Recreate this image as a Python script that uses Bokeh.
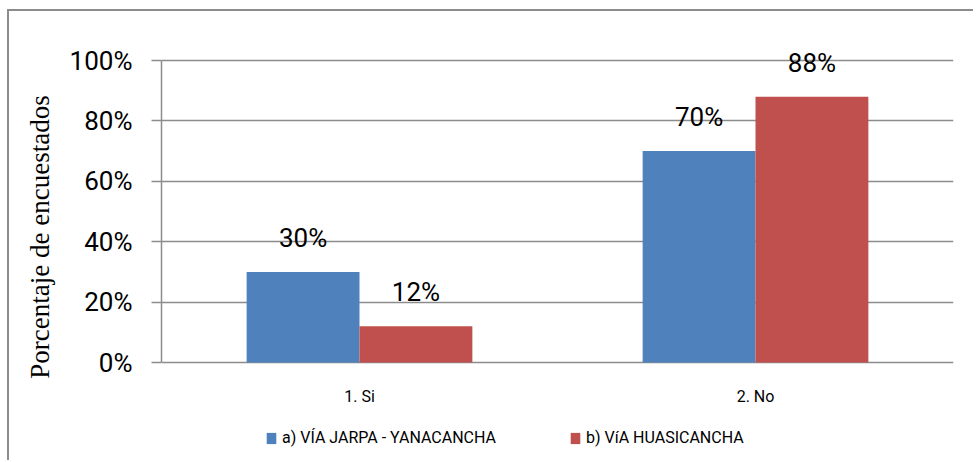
from bokeh.plotting import figure
from bokeh.core.properties import value
from bokeh.models import (ColumnDataSource, FactorRange, Range1d, NumeralTickFormatter,
                          FixedTicker, LabelSet, Legend, LegendItem)
from bokeh.transform import dodge
from bokeh.embed import file_html
from bokeh.resources import INLINE

# ---- data ----
categories = ["1. Si", "2. No"]
series_names = ["a) VÍA JARPA - YANACANCHA", "b) VíA HUASICANCHA"]
via_jarpa = [0.30, 0.70]
via_huasicancha = [0.12, 0.88]
y_ticks = [0, 0.2, 0.4, 0.6, 0.8, 1.0]

BLUE = "#4f81bd"
RED = "#c0504d"
GRAY = "#8c8c8c"
SANS = "Roboto"

src = ColumnDataSource(dict(
    cat=categories,
    base=[0] * len(categories),
    a=via_jarpa,
    b=via_huasicancha,
    a_lbl=[f"{round(v * 100)}%" for v in via_jarpa],
    b_lbl=[f"{round(v * 100)}%" for v in via_huasicancha],
))

# the frame fills the canvas vertically so the labels above 100%, the category
# labels and the legend below the 0% line all stay inside it
p = figure(x_range=FactorRange(factors=categories), y_range=Range1d(-0.3311, 1.1623),
           width=966, height=451, output_backend="svg", toolbar_location=None,
           x_axis_location=None,
           min_border_left=152, min_border_right=22, min_border_top=0, min_border_bottom=0)
p.margin = (9, 0, 0, 7)
p.styles = {"border-left": f"2px solid {GRAY}", "border-top": f"2px solid {GRAY}"}
p.outline_line_color = None
p.background_fill_color = "white"
p.border_fill_color = "white"

off, w = 0.1425, 0.285
r1 = p.vbar(x=dodge("cat", -off, range=p.x_range), top="a", width=w, source=src,
            fill_color=BLUE, line_color=None)
r2 = p.vbar(x=dodge("cat", off, range=p.x_range), top="b", width=w, source=src,
            fill_color=RED, line_color=None)

for col, lbl, dx in (("a", "a_lbl", -off), ("b", "b_lbl", off)):
    p.add_layout(LabelSet(x=dodge("cat", dx, range=p.x_range), y=col, text=lbl, source=src,
                          y_offset=25, text_align="center", text_baseline="alphabetic",
                          text_font=value(SANS), text_font_size="26px", text_color="black"))

# category labels under the 0% line
p.add_layout(LabelSet(x="cat", y="base", text="cat", source=src, y_offset=-34,
                      text_align="center", text_baseline="middle",
                      text_font=value(SANS), text_font_size="16px", text_color="black"))

# grid (only 0..100%)
p.xgrid.grid_line_color = None
p.ygrid.ticker = FixedTicker(ticks=y_ticks)
p.ygrid.grid_line_color = GRAY
p.ygrid.grid_line_width = 1.5

# y axis
p.yaxis.ticker = FixedTicker(ticks=y_ticks)
p.yaxis.bounds = (0, 1)
p.yaxis.formatter = NumeralTickFormatter(format="0%")
p.yaxis.minor_tick_line_color = None
p.yaxis.major_tick_in = 0
p.yaxis.major_tick_out = 10
p.yaxis.major_tick_line_color = GRAY
p.yaxis.major_tick_line_width = 1.5
p.yaxis.axis_line_color = GRAY
p.yaxis.axis_line_width = 1.5
p.yaxis.major_label_text_font = SANS
p.yaxis.major_label_text_font_size = "26px"
p.yaxis.major_label_text_color = "black"
p.yaxis.major_label_standoff = 19
p.yaxis.axis_label = "Porcentaje de encuestados"
p.yaxis.axis_label_text_font = "Liberation Serif"
p.yaxis.axis_label_text_font_size = "27px"
p.yaxis.axis_label_text_font_style = "normal"
p.yaxis.axis_label_text_color = "black"
p.yaxis.axis_label_standoff = 12

legend = Legend(items=[LegendItem(label=series_names[0], renderers=[r1]),
                       LegendItem(label=series_names[1], renderers=[r2])],
                location=(104, 15), orientation="horizontal", padding=0, margin=0,
                spacing=57, glyph_width=12, glyph_height=14, label_height=14,
                label_width=230, label_standoff=5,
                label_text_font=SANS, label_text_font_size="16px",
                label_text_color="black", border_line_color=None,
                background_fill_alpha=0)
p.add_layout(legend)

open("out.html", "w").write(file_html(p, INLINE))
